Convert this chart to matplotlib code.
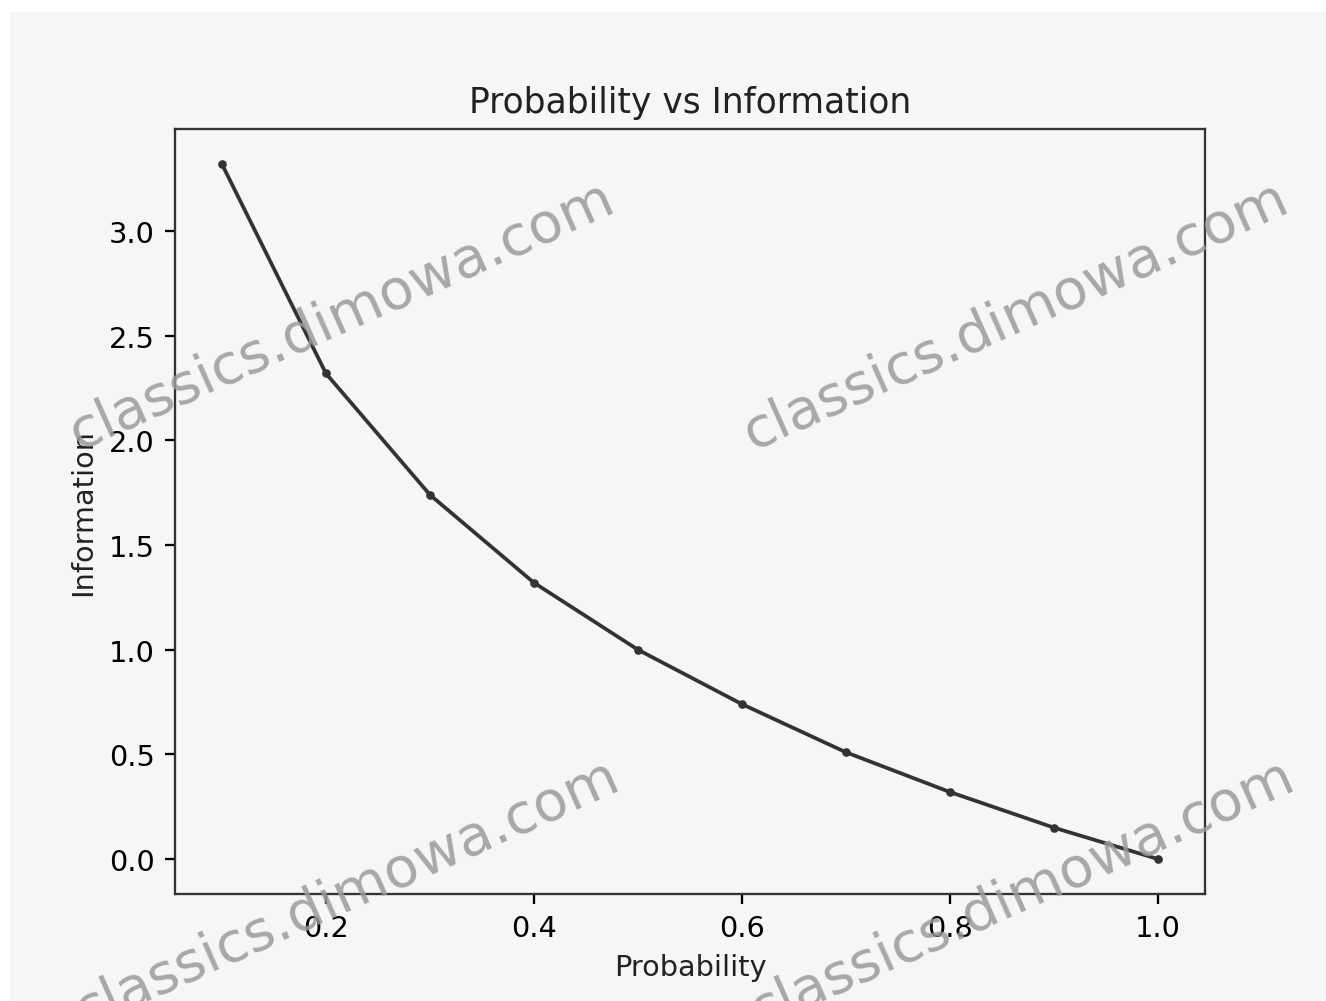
import matplotlib
matplotlib.use("Agg")
import matplotlib.pyplot as plt
from matplotlib.patches import Rectangle

# values
probability = [0.1, 0.2, 0.3, 0.4, 0.5, 0.6, 0.7, 0.8, 0.9, 1.0]
information = [3.32, 2.32, 1.74, 1.32, 1.0, 0.74, 0.51, 0.32, 0.15, 0.0]

watermark = "classics.dimowa.com"
# watermark centres in figure fractions
wm_x = [0.258, 0.766, 0.262, 0.770]
wm_y = [0.685, 0.685, 0.108, 0.108]

fig = plt.figure(figsize=(6.41, 4.84), dpi=207, facecolor="white")
# light grey page with a thin white border at top and left
fig.patches.append(Rectangle((10 / 1327, 0), 1, 1 - 13 / 1002, transform=fig.transFigure,
                             facecolor="#f6f6f6", edgecolor="none", zorder=-1))

ax = fig.add_axes([0.132, 0.107, 0.776, 0.763])
ax.set_facecolor("#f6f6f6")

ax.plot(probability, information, marker=".", markersize=4, color="#333333", linewidth=1.3)

ax.set_title("Probability vs Information", color="#222222")
ax.set_xlabel("Probability", color="#222222")
ax.set_ylabel("Information", color="#222222")
ax.set_xticks([0.2, 0.4, 0.6, 0.8, 1.0])
ax.set_yticks([0.0, 0.5, 1.0, 1.5, 2.0, 2.5, 3.0])
for s in ax.spines.values():
    s.set_color("#333333")

for x, y in zip(wm_x, wm_y):
    fig.text(x, y, watermark, fontsize=19.5, color="#9a9a9a", rotation=24,
             ha="center", va="center", alpha=0.85, zorder=10)

fig.savefig("out.png", dpi=207, facecolor=fig.get_facecolor())
